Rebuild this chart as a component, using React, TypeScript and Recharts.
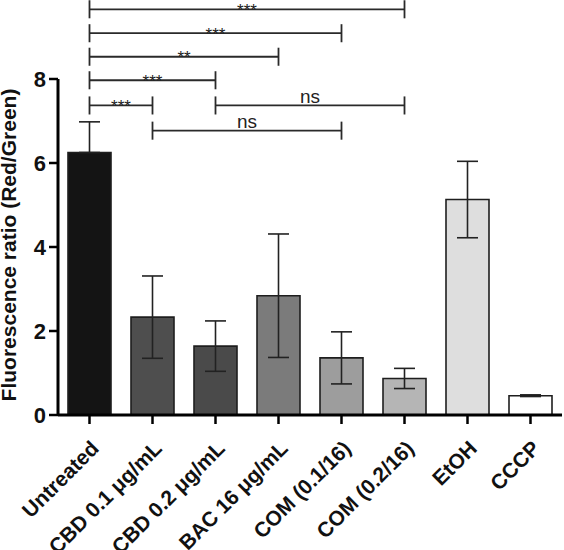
import React from 'react';
import { BarChart, Bar, XAxis, YAxis, ErrorBar, Cell, ReferenceLine, Label } from 'recharts';

const categories = ['Untreated', 'CBD 0.1 μg/mL', 'CBD 0.2 μg/mL', 'BAC 16 μg/mL', 'COM (0.1/16)', 'COM (0.2/16)', 'EtOH', 'CCCP'];
const means = [6.25, 2.33, 1.64, 2.84, 1.36, 0.87, 5.13, 0.46];
const errorsLow = [0, 0.98, 0.6, 1.47, 0.62, 0.24, 0.91, 0.02];
const errorsHigh = [0.73, 0.98, 0.6, 1.47, 0.62, 0.24, 0.91, 0.02];
const barColors = ['#141414', '#4e4e4e', '#4a4a4a', '#7b7b7b', '#9d9d9d', '#b5b5b5', '#dedede', '#ffffff'];
const yTicks = [0, 2, 4, 6, 8];

const bracketFrom = ['Untreated', 'Untreated', 'Untreated', 'Untreated', 'Untreated', 'CBD 0.2 μg/mL', 'CBD 0.1 μg/mL'];
const bracketTo = ['COM (0.2/16)', 'COM (0.1/16)', 'BAC 16 μg/mL', 'CBD 0.2 μg/mL', 'CBD 0.1 μg/mL', 'COM (0.2/16)', 'COM (0.1/16)'];
const bracketY = [9.66, 9.09, 8.53, 7.97, 7.37, 7.37, 6.77];
const bracketText = ['***', '***', '**', '***', '***', 'ns', 'ns'];
const capHalf = 0.215;

const data = categories.map((name, i) => ({ name, value: means[i], err: [errorsLow[i], errorsHigh[i]] }));

const FONT = '"Liberation Sans", Arial, Helvetica, sans-serif';

const XTick = (props: any) => {
  const { x, y, payload } = props;
  return (
    <text
      x={x}
      y={y}
      dy="0.72em"
      textAnchor="end"
      transform={`rotate(-45 ${x} ${y})`}
      fontSize={21}
      fontWeight="bold"
      fontFamily={FONT}
      fill="#111"
    >
      {payload.value}
    </text>
  );
};

const renderBracketLabel = (p: any, text: string) => {
  const vb = p.viewBox || {};
  const cx = vb.x + (vb.width || 0) / 2;
  const y = vb.y;
  if (text === 'ns') {
    return (
      <text x={cx} y={y - 2.5} textAnchor="middle" fontSize={19} fontFamily={FONT} fill="#222">
        {text}
      </text>
    );
  }
  return (
    <text x={cx} y={y + 6.5} textAnchor="middle" fontSize={17} fontFamily={FONT} fill="#222">
      {text}
    </text>
  );
};

const YTitle = (p: any) => {
  const vb = p.viewBox || {};
  const cy = vb.y + vb.height / 2 - 2;
  const x = 16;
  return (
    <text
      x={x}
      y={cy}
      transform={`rotate(-90 ${x} ${cy})`}
      textAnchor="middle"
      fontSize={21}
      fontWeight="bold"
      fontFamily={FONT}
      fill="#111"
    >
      Fluorescence ratio (Red/Green)
    </text>
  );
};

export default function App() {
  const lines: any[] = [];
  bracketY.forEach((yv, i) => {
    const a = bracketFrom[i];
    const b = bracketTo[i];
    const t = bracketText[i];
    lines.push(
      <ReferenceLine
        key={`h${i}`}
        xAxisId="c"
        ifOverflow="visible"
        segment={[{ x: a, y: yv }, { x: b, y: yv }]}
        stroke="#2a2a2a"
        strokeWidth={1.8}
        label={(p: any) => renderBracketLabel(p, t)}
      />
    );
    lines.push(
      <ReferenceLine
        key={`l${i}`}
        xAxisId="c"
        ifOverflow="visible"
        segment={[{ x: a, y: yv - capHalf }, { x: a, y: yv + capHalf }]}
        stroke="#2a2a2a"
        strokeWidth={1.8}
      />
    );
    lines.push(
      <ReferenceLine
        key={`r${i}`}
        xAxisId="c"
        ifOverflow="visible"
        segment={[{ x: b, y: yv - capHalf }, { x: b, y: yv + capHalf }]}
        stroke="#2a2a2a"
        strokeWidth={1.8}
      />
    );
  });

  return (
    <div style={{ position: 'absolute', left: 0, top: 0, width: 564, height: 550, background: '#fff' }}>
      <BarChart width={564} height={550} data={data} margin={{ top: 79, right: 2, bottom: 0, left: 0 }}>
        <XAxis
          xAxisId="c"
          dataKey="name"
          type="category"
          height={135}
          interval={0}
          tick={<XTick />}
          tickSize={9}
          tickMargin={15}
          axisLine={{ stroke: '#000', strokeWidth: 3 }}
          tickLine={{ stroke: '#000', strokeWidth: 2.5 }}
        />
        <YAxis
          width={58}
          domain={[0, 8]}
          ticks={yTicks}
          interval={0}
          tickSize={9}
          tickMargin={3}
          axisLine={{ stroke: '#000', strokeWidth: 3 }}
          tickLine={{ stroke: '#000', strokeWidth: 2.5 }}
          tick={{ fontSize: 22, fontWeight: 'bold', fontFamily: FONT, fill: '#111' }}
        >
          <Label content={<YTitle />} />
        </YAxis>
        <Bar xAxisId="c" dataKey="value" barSize={43} stroke="#1e1e1e" strokeWidth={1.6} isAnimationActive={false}>
          {data.map((d, i) => (
            <Cell key={d.name} fill={barColors[i]} />
          ))}
          <ErrorBar dataKey="err" width={10.5} stroke="#222" strokeWidth={1.6} isAnimationActive={false} />
        </Bar>
        {lines}
      </BarChart>
    </div>
  );
}
